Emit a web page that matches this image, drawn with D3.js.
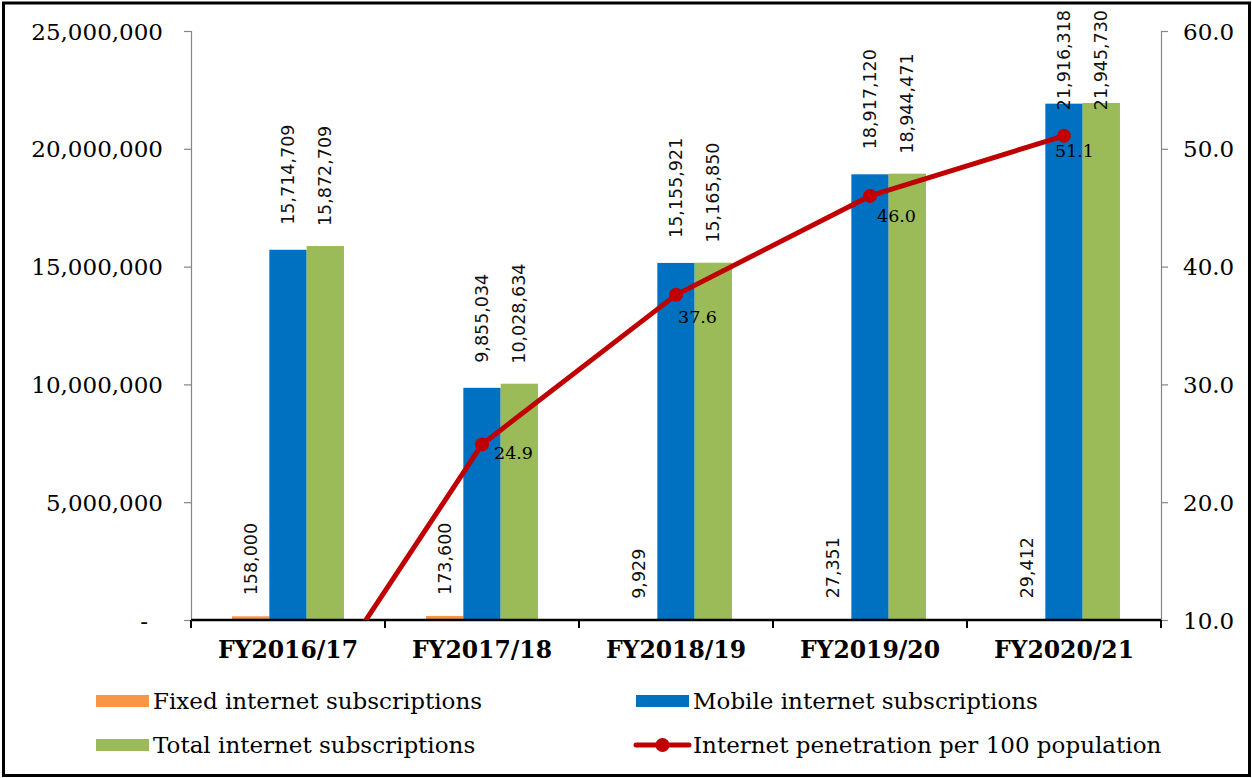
<!DOCTYPE html>
<html>
<head>
<meta charset="utf-8">
<script src="https://cdn.jsdelivr.net/npm/d3@7"></script>
<style>
  html, body { margin: 0; padding: 0; background: #fff; }
  svg { display: block; }
</style>
</head>
<body>
<svg id="chart" width="1252" height="778"></svg>
<script>
// ---- Data ----
const categories = ["FY2016/17", "FY2017/18", "FY2018/19", "FY2019/20", "FY2020/21"];
const seriesNames = ["Fixed internet subscriptions", "Mobile internet subscriptions", "Total internet subscriptions"];
const fixedSubs  = [158000, 173600, 9929, 27351, 29412];
const mobileSubs = [15714709, 9855034, 15155921, 18917120, 21916318];
const totalSubs  = [15872709, 10028634, 15165850, 18944471, 21945730];
const penetration = [0, 24.9, 37.6, 46.0, 51.1];
const lineName = "Internet penetration per 100 population";
const leftTicks = [0, 5000000, 10000000, 15000000, 20000000, 25000000];
const rightTicks = [10, 20, 30, 40, 50, 60];

// ---- Styles ----
const colors = ["#F79646", "#0070C0", "#9BBB59"];
const lineColor = "#C00000";
const barLabelGap = [21, 25, 20];
const penLabelOffsets = [[0, 0], [12, 9], [2, 22], [7, 20], [-9, 15]];

const svg = d3.select("#chart");
const W = 1252, H = 778;
const pL = 191, pR = 1161, pT = 31, pB = 620;

// border
svg.append("rect").attr("x", 3.5).attr("y", 3).attr("width", W - 6).attr("height", H - 5.5)
  .attr("fill", "#fff").attr("stroke", "#000").attr("stroke-width", 3);

const x0 = d3.scaleBand().domain(categories).range([pL, pR])
  .paddingInner(0.423).paddingOuter(0.2115);
const x1 = d3.scaleBand().domain(d3.range(3)).range([0, x0.bandwidth()]);
const yL = d3.scaleLinear().domain([0, 25000000]).range([pB, pT]);
const yR = d3.scaleLinear().domain([10, 60]).range([pB, pT]);

const seriesVals = [fixedSubs, mobileSubs, totalSubs];

// bars
seriesVals.forEach((vals, s) => {
  svg.append("g").selectAll("rect").data(vals).join("rect")
    .attr("x", (d, i) => x0(categories[i]) + x1(s))
    .attr("y", d => yL(d))
    .attr("width", x1.bandwidth())
    .attr("height", d => pB - yL(d))
    .attr("fill", colors[s]);
});

// bar labels
const fmt = d3.format(",");
seriesVals.forEach((vals, s) => {
  svg.append("g").selectAll("text").data(vals).join("text")
    .attr("font-family", "DejaVu Sans, Verdana, sans-serif")
    .attr("font-size", 17.5)
    .attr("fill", "#111")
    .attr("text-anchor", "start")
    .attr("dominant-baseline", "central")
    .text(d => fmt(d))
    .each(function(d, i) {
      const cx = x0(categories[i]) + x1(s) + x1.bandwidth() / 2;
      const len = this.getComputedTextLength();
      let yb = yL(d) - barLabelGap[s];
      if (yb - len < 10) yb = 10 + len;
      d3.select(this).attr("transform", `translate(${cx},${yb}) rotate(-90)`);
    });
});

// left axis
const gL = svg.append("g").attr("transform", `translate(${pL},0)`)
  .call(d3.axisLeft(yL).tickValues(leftTicks).tickSize(7).tickPadding(21)
    .tickFormat(d => d === 0 ? "-" : fmt(d)));
gL.select(".domain").attr("stroke", "#868686").attr("stroke-width", 1.2);
gL.selectAll(".tick line").attr("stroke", "#868686").attr("stroke-width", 1.2);
gL.selectAll(".tick text").attr("font-family", "DejaVu Serif, serif").attr("font-size", 23)
  .attr("fill", "#000").attr("dy", null).attr("dominant-baseline", "central");
gL.selectAll(".tick text").filter(d => d === 0).attr("x", -43);

// right axis
const gR = svg.append("g").attr("transform", `translate(${pR},0)`)
  .call(d3.axisRight(yR).tickValues(rightTicks).tickSize(7).tickPadding(15)
    .tickFormat(d3.format(".1f")));
gR.select(".domain").attr("stroke", "#868686").attr("stroke-width", 1.2);
gR.selectAll(".tick line").attr("stroke", "#868686").attr("stroke-width", 1.2);
gR.selectAll(".tick text").attr("font-family", "DejaVu Serif, serif").attr("font-size", 23)
  .attr("fill", "#000").attr("dy", null).attr("dominant-baseline", "central");

// bottom axis
const xAxisScale = d3.scaleLinear().domain([0, categories.length]).range([pL, pR]);
const gB = svg.append("g").attr("transform", `translate(0,${pB})`);
gB.append("line").attr("x1", pL).attr("x2", pR).attr("y1", 0).attr("y2", 0)
  .attr("stroke", "#000").attr("stroke-width", 2.5);
gB.selectAll("line.tk").data(d3.range(categories.length + 1)).join("line").attr("class", "tk")
  .attr("x1", d => xAxisScale(d)).attr("x2", d => xAxisScale(d))
  .attr("y1", 0).attr("y2", 8).attr("stroke", "#000").attr("stroke-width", 2);
gB.selectAll("text").data(categories).join("text")
  .attr("x", d => x0(d) + x0.bandwidth() / 2)
  .attr("y", 38)
  .attr("text-anchor", "middle")
  .attr("font-family", "DejaVu Serif, serif")
  .attr("font-weight", "bold")
  .attr("font-size", 23.5)
  .attr("fill", "#000")
  .text(d => d);

// line
svg.append("clipPath").attr("id", "plotclip").append("rect")
  .attr("x", pL).attr("y", pT - 10).attr("width", pR - pL).attr("height", pB - pT + 10);
const lineGen = d3.line()
  .x((d, i) => x0(categories[i]) + x0.bandwidth() / 2)
  .y(d => yR(d));
svg.append("path").datum(penetration)
  .attr("clip-path", "url(#plotclip)")
  .attr("d", lineGen)
  .attr("fill", "none").attr("stroke", lineColor).attr("stroke-width", 5)
  .attr("stroke-linejoin", "round");
const visible = penetration.map((d, i) => ({ d, i })).filter(p => p.d >= 10);
svg.append("g").selectAll("circle").data(visible).join("circle")
  .attr("cx", p => x0(categories[p.i]) + x0.bandwidth() / 2)
  .attr("cy", p => yR(p.d))
  .attr("r", 7).attr("fill", lineColor);
svg.append("g").selectAll("text").data(visible).join("text")
  .attr("x", p => x0(categories[p.i]) + x0.bandwidth() / 2 + penLabelOffsets[p.i][0])
  .attr("y", p => yR(p.d) + penLabelOffsets[p.i][1])
  .attr("dominant-baseline", "central")
  .attr("font-family", "DejaVu Serif, serif")
  .attr("font-size", 17.5)
  .attr("fill", "#000")
  .text(p => p.d.toFixed(1));

// legend
const legendItems = [
  { name: seriesNames[0], type: "rect", color: colors[0], x: 96, y: 701 },
  { name: seriesNames[1], type: "rect", color: colors[1], x: 636, y: 701 },
  { name: seriesNames[2], type: "rect", color: colors[2], x: 96, y: 745 },
  { name: lineName, type: "line", color: lineColor, x: 636, y: 745 }
];
const lg = svg.append("g").selectAll("g").data(legendItems).join("g")
  .attr("transform", d => `translate(${d.x},${d.y})`);
lg.filter(d => d.type === "rect").append("rect")
  .attr("x", 0).attr("y", -6).attr("width", 53).attr("height", 12).attr("fill", d => d.color);
lg.filter(d => d.type === "line").append("line")
  .attr("x1", 0).attr("x2", 53).attr("y1", 0).attr("y2", 0)
  .attr("stroke", d => d.color).attr("stroke-width", 5).attr("stroke-linecap", "round");
lg.filter(d => d.type === "line").append("circle")
  .attr("cx", 26.5).attr("cy", 0).attr("r", 7).attr("fill", d => d.color);
lg.append("text")
  .attr("x", 57).attr("y", 0).attr("dominant-baseline", "central")
  .attr("font-family", "DejaVu Serif, serif").attr("font-size", 23)
  .attr("fill", "#000")
  .text(d => d.name);
</script>
</body>
</html>
